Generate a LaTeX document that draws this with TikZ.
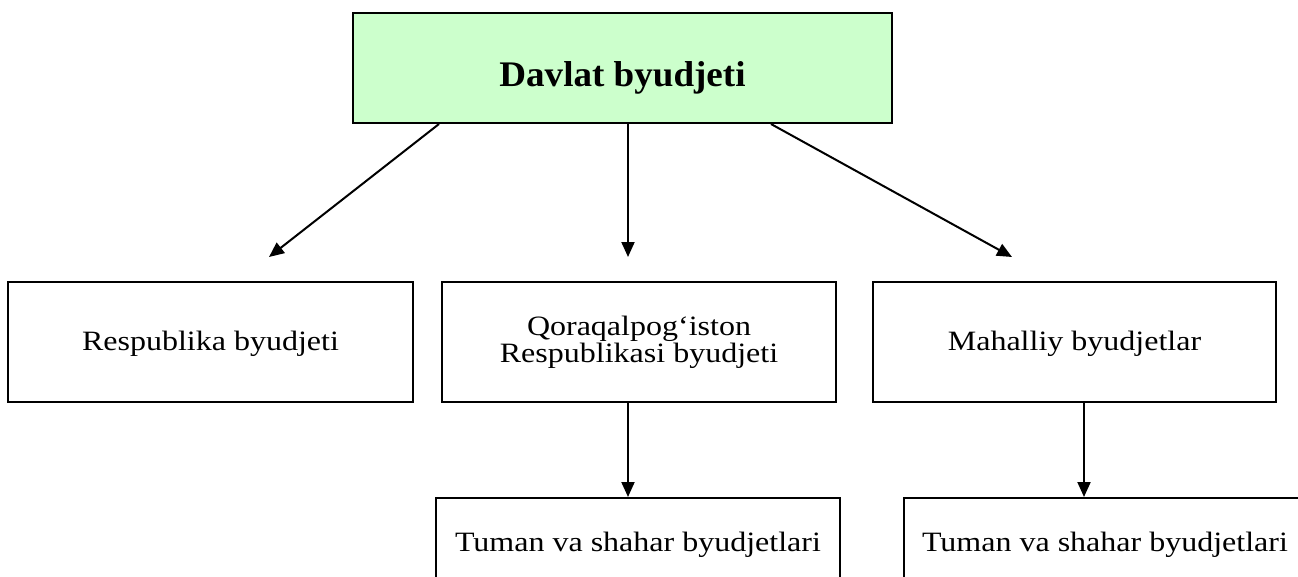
\documentclass[tikz,border=0pt]{standalone}
\usepackage{graphicx}
\usepackage{fontspec}
\setmainfont{Liberation Serif}
\usetikzlibrary{arrows.meta,positioning}

% text in the reference is set a little wide
\newcommand{\wide}[1]{\scalebox{1.143}[1]{#1}}

\begin{document}
\begin{tikzpicture}[x=1pt, y=-1pt, >={Triangle[length=15pt,width=13pt]},
  box/.style={draw, line width=2pt, inner sep=0pt, align=center,
    font=\fontsize{28}{27}\selectfont},
  oneline/.style={text height=22pt, text depth=6pt},
  arr/.style={->, line width=2pt}]
\useasboundingbox (0,0) rectangle (1298,576);
\clip (0,0) rectangle (1298,576);

% Top box
\node[box, fill={rgb,255:red,204;green,255;blue,204}, minimum width=539pt, minimum height=110pt,
  text height=44pt, text depth=8pt,
  font=\fontsize{36}{36}\selectfont\bfseries] (davlat) at (622.5,68) {\scalebox{1.03}[1]{Davlat byudjeti}};

% Middle row
\node[box, oneline, minimum width=405pt, minimum height=120pt] (respub) at (210.5,342) {\wide{Respublika byudjeti}};
\node[box, minimum width=394pt, minimum height=120pt] (qoraq) at (639,342) {\wide{Qoraqalpog‘iston}\\\wide{Respublikasi byudjeti}};
\node[box, oneline, minimum width=403pt, minimum height=120pt] (mahal) at (1074.5,342) {\wide{Mahalliy byudjetlar}};

% Bottom row (cut by the page edge)
\node[box, oneline, minimum width=404pt, minimum height=90pt] (tumanA) at (638,543) {\wide{Tuman va shahar byudjetlari}};
\node[box, oneline, minimum width=402pt, minimum height=90pt] (tumanB) at (1105,543) {\wide{Tuman va shahar byudjetlari}};

% Free arrow tips
\coordinate (tipL) at (269,257);
\coordinate (tipM) at (628,257);
\coordinate (tipR) at (1012,257);

% Arrows
\draw[arr] ([xshift=87pt]davlat.south west) -- (tipL);
\draw[arr] ([xshift=5.5pt]davlat.south) -- (tipM);
\draw[arr] ([xshift=-122pt]davlat.south east) -- (tipR);
\draw[arr] ([xshift=-11pt]qoraq.south) -- ([xshift=-10pt]tumanA.north);
\draw[arr] ([xshift=9.5pt]mahal.south) -- ([xshift=-21pt]tumanB.north);
\end{tikzpicture}
\end{document}
